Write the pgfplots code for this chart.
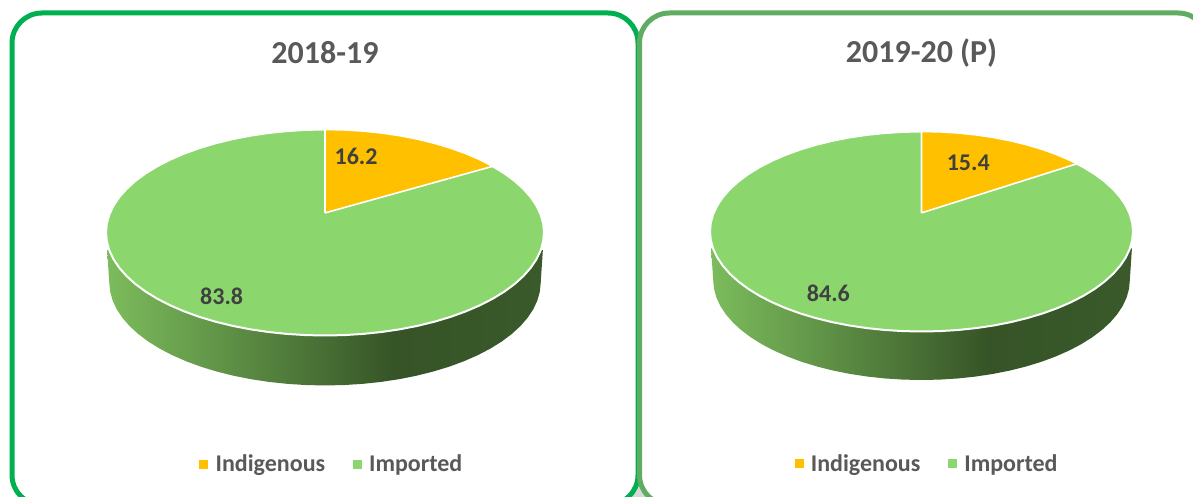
\documentclass[border=0pt]{standalone}
\usepackage{pgfplots}
\usepackage{pgfplotstable}
\pgfplotsset{compat=1.18}
\usepackage{fontspec}
\setmainfont{Carlito}
\definecolor{amber}{HTML}{FFC000}
\definecolor{lgreen}{HTML}{8BD76E}
\definecolor{sa}{HTML}{7CBC5C}
\definecolor{sd}{HTML}{365427}
\definecolor{se}{HTML}{3A5A2B}
\definecolor{frameA}{HTML}{00B050}
\definecolor{frameB}{HTML}{5FAD62}
\definecolor{txt}{HTML}{595959}
\definecolor{labc}{HTML}{404040}
\pgfdeclarehorizontalshading{sidegrad}{100bp}{color(0bp)=(sa); color(25bp)=(sa); color(58bp)=(sd); color(75bp)=(se); color(100bp)=(se)}
% unit ellipse, clockwise from the top
\pgfplotstableread{
x y
0 1
.0872 .9962
.1736 .9848
.2588 .9659
.3420 .9397
.4226 .9063
.5 .8660
.5736 .8192
.6428 .7660
.7071 .7071
.7660 .6428
.8192 .5736
.8660 .5
.9063 .4226
.9397 .3420
.9659 .2588
.9848 .1736
.9962 .0872
1 0
.9962 -.0872
.9848 -.1736
.9659 -.2588
.9397 -.3420
.9063 -.4226
.8660 -.5
.8192 -.5736
.7660 -.6428
.7071 -.7071
.6428 -.7660
.5736 -.8192
.5 -.8660
.4226 -.9063
.3420 -.9397
.2588 -.9659
.1736 -.9848
.0872 -.9962
0 -1
-.0872 -.9962
-.1736 -.9848
-.2588 -.9659
-.3420 -.9397
-.4226 -.9063
-.5 -.8660
-.5736 -.8192
-.6428 -.7660
-.7071 -.7071
-.7660 -.6428
-.8192 -.5736
-.8660 -.5
-.9063 -.4226
-.9397 -.3420
-.9659 -.2588
-.9848 -.1736
-.9962 -.0872
-1 0
-.9962 .0872
-.9848 .1736
-.9659 .2588
-.9397 .3420
-.9063 .4226
-.8660 .5
-.8192 .5736
-.7660 .6428
-.7071 .7071
-.6428 .7660
-.5736 .8192
-.5 .8660
-.4226 .9063
-.3420 .9397
-.2588 .9659
-.1736 .9848
-.0872 .9962
0 1
}\ellipsetable
% rim of the pie
\pgfplotstableread{
x y s
-1.01 -.17 0
-1 0 1
-.9962 -.0872 1
-.9848 -.1736 1
-.9659 -.2588 1
-.9397 -.3420 1
-.9063 -.4226 1
-.8660 -.5 1
-.8192 -.5736 1
-.7660 -.6428 1
-.7071 -.7071 1
-.6428 -.7660 1
-.5736 -.8192 1
-.5 -.8660 1
-.4226 -.9063 1
-.3420 -.9397 1
-.2588 -.9659 1
-.1736 -.9848 1
-.0872 -.9962 1
0 -1 1
.0872 -.9962 1
.1736 -.9848 1
.2588 -.9659 1
.3420 -.9397 1
.4226 -.9063 1
.5 -.8660 1
.5736 -.8192 1
.6428 -.7660 1
.7071 -.7071 1
.7660 -.6428 1
.8192 -.5736 1
.8660 -.5 1
.9063 -.4226 1
.9397 -.3420 1
.9659 -.2588 1
.9848 -.1736 1
.9962 -.0872 1
1 0 1
1.01 -.17 0
}\rimtable
% Indigenous slice 2018-19: 16.2
\pgfplotstableread{
x y
0 .19
0 1
.0872 .9962
.1736 .9848
.2588 .9659
.3420 .9397
.4226 .9063
.5 .8660
.5736 .8192
.6428 .7660
.7071 .7071
.7660 .6428
0 .19
}\sliceA
% Indigenous slice 2019-20: 15.4
\pgfplotstableread{
x y
0 .186
0 1
.0872 .9962
.1736 .9848
.2588 .9659
.3420 .9397
.4226 .9063
.5 .8660
.5736 .8192
.6428 .7660
.7071 .7071
.7353 .6777
0 .186
}\sliceB
\tikzset{lab/.style={font=\fontsize{24}{24}\selectfont\bfseries, text=labc}}
\pgfplotsset{
  piepanel/.style={
    scale only axis, hide axis, clip=false,
    xmin=-1, xmax=1, ymin=-1, ymax=1,
    title style={font=\fontsize{32}{32}\selectfont\bfseries, text=txt, anchor=center},
    legend columns=2,
    legend cell align=left,
    legend style={draw=none, fill=none, anchor=center,
      font=\fontsize{24}{24}\selectfont\bfseries, text=txt,
      /tikz/every odd column/.append style={column sep=6pt},
      /tikz/every even column/.append style={column sep=26pt}},
  },
  rim/.style={forget plot, shade, shading=sidegrad, draw=none},
  top/.style={forget plot, fill=lgreen, draw=white, line width=2pt},
  wedge/.style={forget plot, fill=amber, draw=white, line width=1.6pt, line join=miter},
}
\begin{document}
\begin{tikzpicture}[x=1pt,y=1pt]
\path[use as bounding box] (0,0) rectangle (1193,497);
\begin{scope}
\clip (0,0) rectangle (1193,497);
\fill[gray!30] (620,0) rectangle (660,25);
\draw[frameA, fill=white, line width=5pt, rounded corners=30pt] (12,-8) rectangle (638,484);
\draw[frameB, fill=white, line width=5pt, rounded corners=30pt] (639.5,-8) rectangle (1208,484);
\end{scope}
\begin{axis}[piepanel, at={(106pt,161.5pt)}, anchor=south west, width=438pt, height=206pt,
  title={2018-19}, title style={at={(0.5,1.345)}},
  legend style={at={(0.516,-0.625)}}]
\addplot[rim] table[x expr=\thisrow{x}*0.985, y expr=\thisrow{y}-0.485*\thisrow{s}] {\rimtable};
\addplot[top] table[x=x,y=y] {\ellipsetable};
\addplot[wedge] table[x=x,y=y] {\sliceA};
\addlegendimage{only marks, mark=square*, mark size=4pt, color=amber}
\addlegendentry{Indigenous}
\addlegendimage{only marks, mark=square*, mark size=4pt, color=lgreen}
\addlegendentry{Imported}
\node[lab] at (axis cs:.142,.737) {16.2};
\node[lab] at (axis cs:-.472,-.62) {83.8};
\end{axis}
\begin{axis}[piepanel, at={(710pt,165.5pt)}, anchor=south west, width=423pt, height=200pt,
  title={2019-20 (P)}, title style={at={(0.5,1.36)}},
  legend style={at={(0.5135,-0.66)}}]
\addplot[rim] table[x expr=\thisrow{x}*0.985, y expr=\thisrow{y}-0.485*\thisrow{s}] {\rimtable};
\addplot[top] table[x=x,y=y] {\ellipsetable};
\addplot[wedge] table[x=x,y=y] {\sliceB};
\addlegendimage{only marks, mark=square*, mark size=4pt, color=amber}
\addlegendentry{Indigenous}
\addlegendimage{only marks, mark=square*, mark size=4pt, color=lgreen}
\addlegendentry{Imported}
\node[lab] at (axis cs:.221,.688) {15.4};
\node[lab] at (axis cs:-.44,-.618) {84.6};
\end{axis}
\end{tikzpicture}
\end{document}
